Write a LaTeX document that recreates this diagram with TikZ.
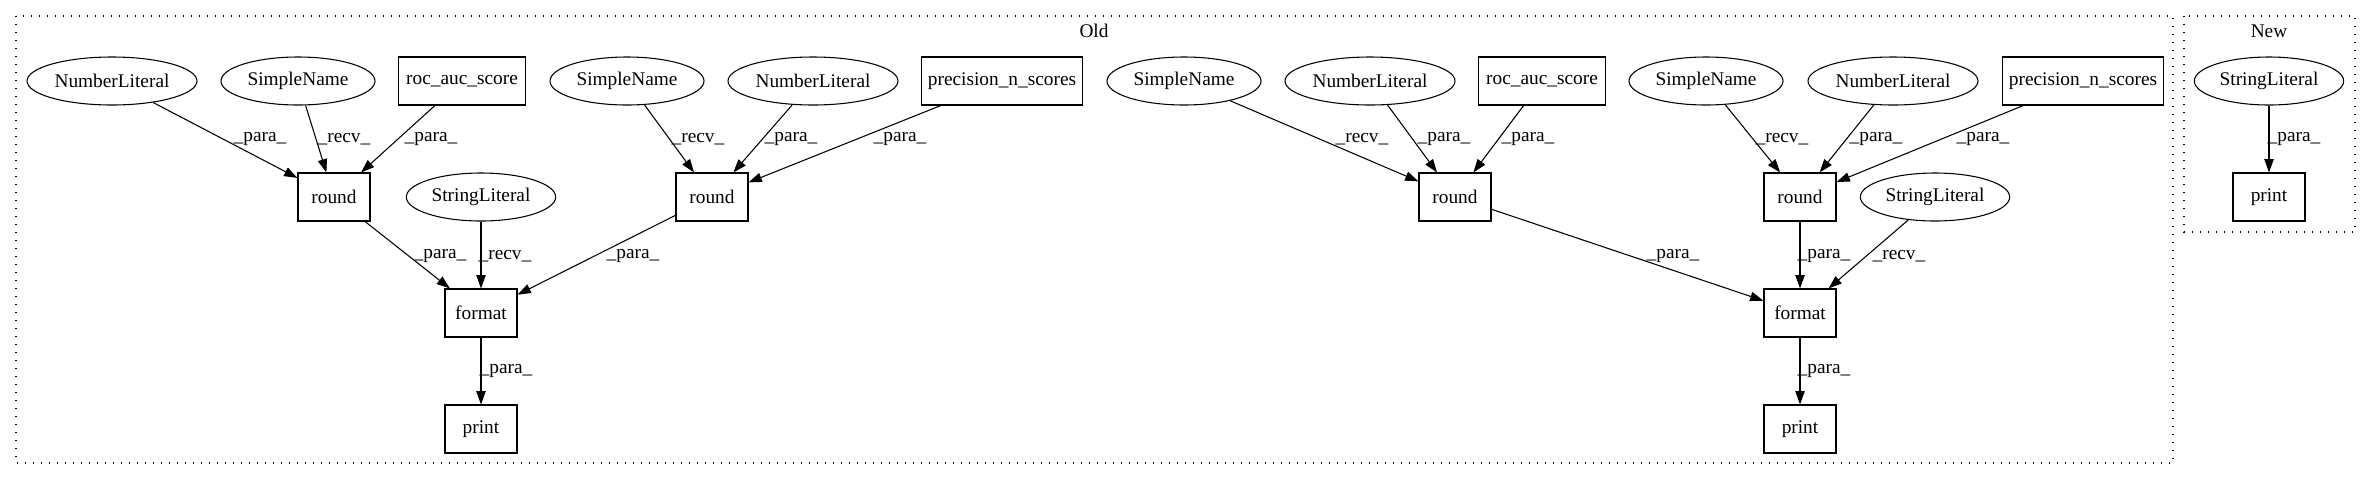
\documentclass[tikz,border=0pt]{standalone}
\usepackage{fontspec}
\setmainfont{Liberation Serif}
\usetikzlibrary{shapes.geometric,arrows.meta}
\begin{document}
\begin{tikzpicture}[x=0.75pt,y=-0.75pt,
  every node/.style={font=\fontsize{14.5}{16}\selectfont},
  ell/.style={ellipse,draw,line width=0.8pt,inner sep=0pt,minimum height=36pt},
  box/.style={rectangle,draw,line width=0.8pt,inner sep=0pt,minimum height=36pt},
  nlit/.style={ell,minimum width=127.5pt},
  sname/.style={ell,minimum width=115.5pt},
  slit/.style={ell,minimum width=112pt},
  rocbox/.style={box,minimum width=95pt},
  precbox/.style={box,minimum width=121pt},
  smallbox/.style={box,minimum width=54pt},
  edge/.style={draw,line width=0.8pt,-{Triangle[length=10pt,width=7pt]}},
  lab/.style={inner sep=0pt},
  cluster/.style={draw,line width=0.9pt,dash pattern=on 1pt off 5pt}
]
\useasboundingbox (0,0) rectangle (2371,480);
% clusters
\draw[cluster] (16,16) rectangle (2173,463);
\draw[cluster] (2184,16) rectangle (2355,232);
\node (oldlab) at (1094,31) {Old};
\node (newlab) at (2269,31) {New};
% top row
\node[nlit] (nl1) at (112,81) {NumberLiteral};
\node[sname] (sn1) at (298,81) {SimpleName};
\node[rocbox] (roc1) at (462,81) {roc\_auc\_score};
\node[sname] (sn2) at (627,81) {SimpleName};
\node[nlit] (nl2) at (813,81) {NumberLiteral};
\node[precbox] (prec1) at (1002,81) {precision\_n\_scores};
\node[sname] (sn3) at (1184,81) {SimpleName};
\node[nlit] (nl3) at (1370,81) {NumberLiteral};
\node[rocbox] (roc2) at (1542,81) {roc\_auc\_score};
\node[sname] (sn4) at (1706,81) {SimpleName};
\node[nlit] (nl4) at (1893,81) {NumberLiteral};
\node[precbox] (prec2) at (2083,81) {precision\_n\_scores};
\node[slit] (sl3) at (2269,81) {StringLiteral};
% second row
\node[smallbox] (r1) at (334,197) {round};
\node[slit] (sl1) at (481,197) {StringLiteral};
\node[smallbox] (r2) at (712,197) {round};
\node[smallbox] (r3) at (1455,197) {round};
\node[smallbox] (r4) at (1800,197) {round};
\node[slit] (sl2) at (1935,197) {StringLiteral};
\node[smallbox] (pn) at (2269,197) {print};
% third row
\node[smallbox] (f1) at (481,313) {format};
\node[smallbox] (f2) at (1800,313) {format};
% fourth row
\node[smallbox] (p1) at (481,429) {print};
\node[smallbox] (p2) at (1800,429) {print};
% edges
\path[edge] (nl1) -- (r1) node[lab] (e1) at (260,139) {\_para\_};
\path[edge] (sn1) -- (r1) node[lab] (e2) at (344,139) {\_recv\_};
\path[edge] (roc1) -- (r1) node[lab] (e3) at (431,139) {\_para\_};
\path[edge] (sn2) -- (r2) node[lab] (e4) at (698,139) {\_recv\_};
\path[edge] (nl2) -- (r2) node[lab] (e5) at (791,139) {\_para\_};
\path[edge] (prec1) -- (r2) node[lab] (e6) at (900,139) {\_para\_};
\path[edge] (r1) -- (f1) node[lab] (e7) at (440,256) {\_para\_};
\path[edge] (sl1) -- (f1) node[lab] (e8) at (505,256) {\_recv\_};
\path[edge] (r2) -- (f1) node[lab] (e9) at (633,256) {\_para\_};
\path[edge] (f1) -- (p1) node[lab] (e10) at (506,371) {\_para\_};
\path[edge] (sn3) -- (r3) node[lab] (e11) at (1362,139) {\_recv\_};
\path[edge] (nl3) -- (r3) node[lab] (e12) at (1444,139) {\_para\_};
\path[edge] (roc2) -- (r3) node[lab] (e13) at (1528,139) {\_para\_};
\path[edge] (sn4) -- (r4) node[lab] (e14) at (1782,139) {\_recv\_};
\path[edge] (nl4) -- (r4) node[lab] (e15) at (1876,139) {\_para\_};
\path[edge] (prec2) -- (r4) node[lab] (e16) at (1983,139) {\_para\_};
\path[edge] (r3) -- (f2) node[lab] (e17) at (1673,256) {\_para\_};
\path[edge] (r4) -- (f2) node[lab] (e18) at (1824,256) {\_para\_};
\path[edge] (sl2) -- (f2) node[lab] (e19) at (1899,256) {\_recv\_};
\path[edge] (f2) -- (p2) node[lab] (e20) at (1824,371) {\_para\_};
\path[edge] (sl3) -- (pn) node[lab] (e21) at (2294,139) {\_para\_};
\end{tikzpicture}
\end{document}
